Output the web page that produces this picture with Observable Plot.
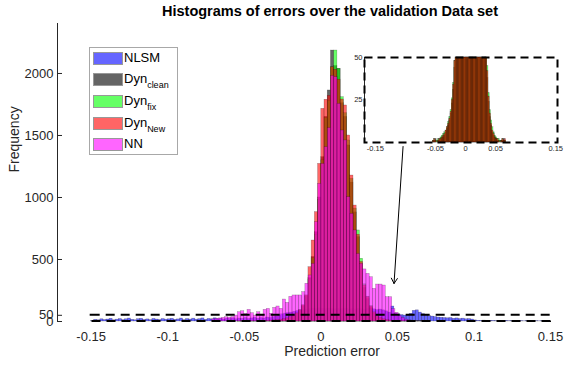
<!DOCTYPE html>
<html><head><meta charset="utf-8">
<script src="https://cdn.jsdelivr.net/npm/d3@7"></script>
<script src="https://cdn.jsdelivr.net/npm/@observablehq/plot@0.6"></script>
<style>
body{margin:0;background:#fff;font-family:"Liberation Sans",Arial,Helvetica,sans-serif;}
#wrap{position:relative;width:587px;height:365px;overflow:hidden;background:#fff;}
#title{box-sizing:border-box;width:587px;height:23px;line-height:22px;padding-left:73px;text-align:center;font-weight:bold;font-size:14.5px;color:#000;}
#legend{position:absolute;left:89px;top:47px;width:87px;height:106px;border:1px solid #a8a8a8;background:#fff;}
.lrow{position:absolute;left:3px;height:13px;font-size:13px;color:#000;white-space:nowrap;}
.sw{position:absolute;left:0;top:0;width:28px;height:11px;border:1px solid #555;}
.lt{position:absolute;left:31px;top:-2px;line-height:15px;}
.lt sub{font-size:9px;vertical-align:-5px;}
#inset{position:absolute;left:340px;top:45px;}
</style>
</head><body>
<div id="wrap">
  <div id="title">Histograms of errors over the validation Data set</div>
  <div id="main"></div>
  <div id="legend"></div>
  <div id="inset"></div>
</div>
<script>
// ---------- data ----------
// NLSM: bins of 0.002 from -0.150 to 0.150
const nlsmBinWidth = 0.002;
const nlsmStart = -0.150;
const nlsmCounts = [
  4,14,10,18,12,16,22,10,15,20,12,18,24,14,10,19,22,13,17,11,21,16,12,20,15,
  18,22,14,17,24,12,20,16,23,15,19,25,14,21,17,26,18,22,16,24,
  20,26,18,24,22,28,20,25,30,22,27,24,32,28,35,40,50,58,64,68,
  72,78,84,90,94,96,100,104,100,106,102,98,104,100,96,102,98,100,104,96,
  100,96,102,98,94,100,104,98,92,96,90,82,72,121,64,58,52,48,50,62,
  86,90,72,60,50,44,40,36,32,30,28,26,28,22,25,20,23,18,20,16,
  9,6,5,7,4,6,5,3,5,4,6,3,4,5,3,4,2,5,3,4,3,2,4,3,5
];

// Dyn / NN histograms: bins of 0.0021
const binWidth = 0.0021;

// Dyn_clean
const cleanStart = -0.0543;
const cleanCounts = [
  1,1,2,0,1,1,2,3,3,4,6,8,10,13,17,23,31,44,60,85,120,200,
  350,520,720,1000,1325,1650,1863,2185,2060,2037,1760,1650,1420,1120,880,680,460,270,180,110,65,38,24,15,
  10,6,4,3,2,1,1,0,1,1,2,1
];

// Dyn_fix
const fixStart = -0.0543;
const fixCounts = [
  1,2,1,1,2,2,3,4,5,6,7,9,12,15,19,26,35,48,66,92,130,210,
  340,510,700,980,1300,1640,1780,2050,2185,2037,1809,1680,1460,1150,910,734,506,300,200,125,75,45,29,19,
  13,9,6,4,3,2,2,1,1,2,1,1
];

// Dyn_New
const newStart = -0.0543;
const newCounts = [
  1,2,1,0,1,2,2,3,4,5,7,9,11,14,18,25,34,48,65,90,130,210,
  438,653,882,1271,1715,1788,1820,2050,2030,1950,1790,1742,1500,1177,935,700,480,290,196,120,72,42,27,17,
  11,7,5,3,2,2,1,0,1,2,1,2
];

// NN
const nnStart = -0.0710;
const nnCounts = [
  18,22,25,30,35,32,36,48,75,83,62,94,67,48,75,48,94,102,62,110,121,102,
  177,150,199,210,210,210,237,304,371,465,801,1110,1271,1406,1560,1980,
  1970,1755,1540,1460,1003,868,734,545,465,420,384,357,263,298,298,290,196,196,
  100,70,45,30,15,10
];

const seriesNames = ["NLSM","Dyn_clean","Dyn_fix","Dyn_New","NN"];
const seriesColors = ["#0000ff","#000000","#00ff00","#ff0000","#ff00ff"];
const legendMain = ["NLSM","Dyn","Dyn","Dyn","NN"];
const legendSub = ["","clean","fix","New",""];

const xTicks = [-0.15,-0.1,-0.05,0,0.05,0.1,0.15];
const yTicks = [0,50,500,1000,1500,2000];
const xDomain = [-0.172, 0.15];
const yDomain = [0, 2403];

const insetXTicks = [-0.15,-0.05,0,0.05,0.15];
const insetYTicks = [25,50];
const insetXDomain = [-0.168, 0.153];
const insetYDomain = [0, 50];

// zoom window drawn in the main axes, and the annotation arrow (data units)
const zoomWindow = [{x1:-0.15, x2:0.15, y1:0, y2:50}];
const arrowAnno = [{x1:0.0537, y1:1411, x2:0.0478, y2:306}];

// ---------- build tables ----------
function bins(name, start, width, counts){
  return counts.map((c,i)=>({series:name, x1:start+i*width, x2:start+(i+1)*width, y:c}));
}
const tables = {
  "NLSM": bins("NLSM", nlsmStart, nlsmBinWidth, nlsmCounts),
  "Dyn_clean": bins("Dyn_clean", cleanStart, binWidth, cleanCounts),
  "Dyn_fix": bins("Dyn_fix", fixStart, binWidth, fixCounts),
  "Dyn_New": bins("Dyn_New", newStart, binWidth, newCounts),
  "NN": bins("NN", nnStart, binWidth, nnCounts)
};
const fmt = d => String(d);
const font = "Liberation Sans, Arial, Helvetica, sans-serif";

function histMarks(names){
  return names.map(n => {
    const i = seriesNames.indexOf(n);
    return Plot.rectY(tables[n], {x1:"x1", x2:"x2", y:"y", fill:seriesColors[i], fillOpacity:0.6,
      stroke:"#000", strokeOpacity:0.35, strokeWidth:0.5});
  });
}

// ---------- main chart ----------
const main = Plot.plot({
  width: 587, height: 342,
  marginTop: 0, marginBottom: 44, marginLeft: 57, marginRight: 37,
  style: {fontFamily: font, fontSize: "13px", color: "#262626", background: "transparent"},
  x: {domain: xDomain, ticks: xTicks, tickFormat: fmt, label: null, tickSize: 0, tickPadding: 10},
  y: {domain: yDomain, ticks: yTicks, tickFormat: fmt, label: null, tickSize: -5, tickPadding: 9},
  marks: [
    ...histMarks(seriesNames),
    Plot.rect(zoomWindow, {x1:"x1", x2:"x2", y1:"y1", y2:"y2", fill:"none", stroke:"#000", strokeWidth:2, strokeDasharray:"9,6"}),
    Plot.ruleX([xDomain[0]], {stroke:"#262626", strokeWidth:1}),
    Plot.arrow(arrowAnno, {x1:"x1", y1:"y1", x2:"x2", y2:"y2", stroke:"#000", strokeWidth:1, headLength:9}),
    Plot.text(["Frequency"], {frameAnchor:"left", rotate:-90, dx:-43, fontSize:14, fill:"#262626"}),
    Plot.text(["Prediction error"], {frameAnchor:"bottom", dx:28, dy:34, fontSize:14, fill:"#262626"})
  ]
});
document.getElementById("main").appendChild(main);

// ---------- inset ----------
const inset = Plot.plot({
  width: 230, height: 115,
  marginTop: 12, marginBottom: 18, marginLeft: 24, marginRight: 13,
  style: {fontFamily: font, fontSize: "7.5px", color: "#262626", background: "transparent"},
  x: {domain: insetXDomain, ticks: insetXTicks, tickFormat: fmt, label: null, tickSize: 0, tickPadding: 3},
  y: {domain: insetYDomain, clamp: true, ticks: insetYTicks, tickFormat: fmt, label: null, tickSize: -3, tickPadding: 5},
  marks: [
    Plot.frame({fill:"#fff", stroke:"none"}),
    ...histMarks(["Dyn_clean","Dyn_fix","Dyn_New"]),
    Plot.ruleX([insetXDomain[0]], {stroke:"#262626"}),
    Plot.frame({stroke:"#000", strokeWidth:2, strokeDasharray:"8,5"})
  ]
});
document.getElementById("inset").appendChild(inset);

// ---------- legend ----------
const legend = document.getElementById("legend");
const rowStep = 21.7;
seriesNames.forEach((n,i)=>{
  const row = document.createElement("div");
  row.className = "lrow";
  row.style.top = (3.5 + i*rowStep) + "px";
  const sw = document.createElement("div");
  sw.className = "sw";
  sw.style.background = seriesColors[i];
  sw.style.opacity = 0.6;
  const t = document.createElement("div");
  t.className = "lt";
  t.textContent = legendMain[i];
  if (legendSub[i]) { const s = document.createElement("sub"); s.textContent = legendSub[i]; t.appendChild(s); }
  row.appendChild(sw); row.appendChild(t);
  legend.appendChild(row);
});
</script>
</body></html>
